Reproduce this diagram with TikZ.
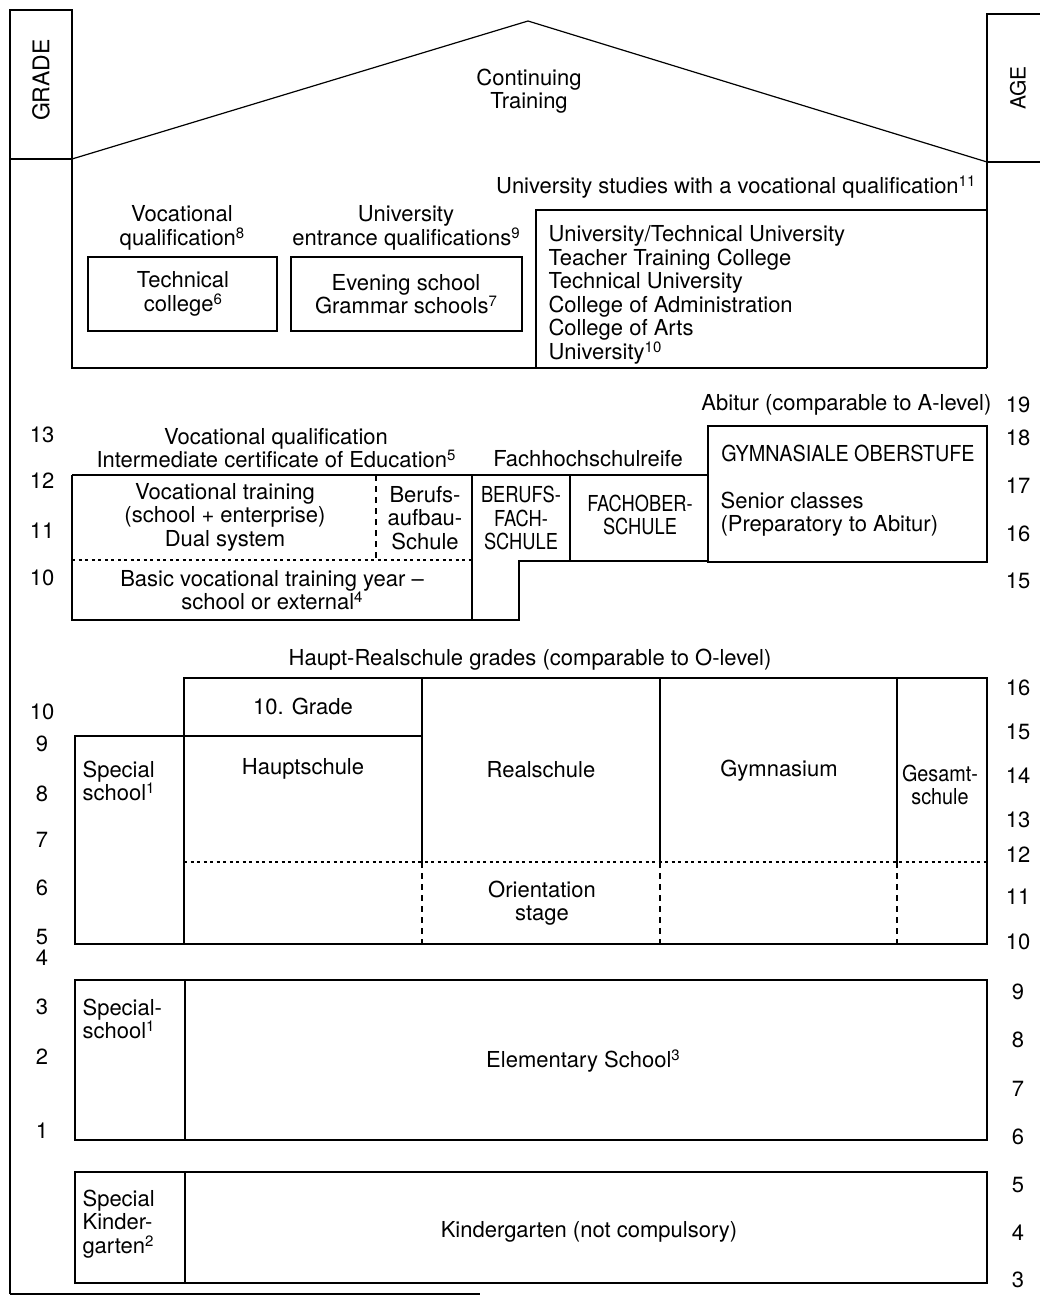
\documentclass[tikz,border=0pt]{standalone}
\usepackage{fontspec}
\setmainfont{TeX Gyre Heros}
\newfontfamily\condA[FakeStretch=0.83]{TeX Gyre Heros}
\newfontfamily\condB[FakeStretch=0.9]{TeX Gyre Heros}
\newcommand\fn[1]{\raisebox{0.62ex}{\fontsize{15}{15}\selectfont #1}}
\begin{document}
\begin{tikzpicture}[x=1pt,y=-1pt,
  line width=1.2pt,
  txt/.style={inner sep=0pt,align=center,font=\fontsize{22}{23.5}\selectfont},
  ctxt/.style={inner sep=0pt,align=center,font=\fontsize{22}{23.5}\condA},
  ltxt/.style={inner sep=0pt,align=left,anchor=west,font=\fontsize{22}{23.5}\selectfont},
  num/.style={inner sep=0pt,font=\fontsize{22}{23.5}\selectfont},
  dotl/.style={dash pattern=on 3pt off 3.5pt},
  dashl/.style={dash pattern=on 6pt off 5pt}]
\useasboundingbox (0,0) rectangle (1040,1296);
% ---------- outer frame and roof ----------
\draw (10,1294) -- (10,10) -- (72,10) -- (72,368) -- (987,368);
\draw (10,1294) -- (480,1294);
\draw (10,159) -- (72,159);
\draw (72,159) -- (528,21) -- (987,162);
\draw (1040,14) -- (987,14) -- (987,368);
\draw (987,162) -- (1040,162);
\node[txt,rotate=90,font=\fontsize{23}{24}\selectfont] (grade) at (41,80) {GRADE};
\node[txt,rotate=90,font=\fontsize{21}{24}\selectfont] (age) at (1018,88) {AGE};
\node[txt] (cont) at (529,91) {Continuing\\Training};
% ---------- higher education ----------
\node[txt,anchor=east] (univvoc) at (976,187) {University studies with a vocational qualification\fn{11}};
\draw (536,368) -- (536,210) -- (987,210);
\node[ltxt] (univlist) at (548,295) {University/Technical University\\Teacher Training College\\Technical University\\College of Administration\\College of Arts\\University\fn{10}};
\node[txt] (vocq) at (182,228) {Vocational\\qualification\fn{8}};
\node[txt] (uniq) at (406,228) {University\\entrance qualifications\fn{9}};
\draw (88,257) rectangle (277,331);
\draw (291,257) rectangle (522,331);
\node[txt] (techc) at (183,294) {Technical\\college\fn{6}};
\node[txt] (even) at (406,294) {Evening school\\Grammar schools\fn{7}};
% ---------- upper secondary ----------
\node[txt,anchor=east] (abitur) at (992,405) {Abitur (comparable to A-level)};
\node[txt] (vocq2) at (276,448) {Vocational qualification\\Intermediate certificate of Education\fn{5}};
\node[txt] (fhr) at (588,459) {Fachhochschulreife};
\draw (708,426) rectangle (987,562);
\node[txt,font=\fontsize{22}{23.5}\condB] (gymo) at (848,453) {GYMNASIALE OBERSTUFE};
\node[ltxt] (senior) at (720,514) {Senior classes\\(Preparatory to Abitur)};
\draw (72,475) -- (708,475);
\draw (72,475) -- (72,620) -- (519,620) -- (519,561) -- (708,561);
\draw (472,475) -- (472,620);
\draw (570,475) -- (570,561);
\draw[dashl] (376,475) -- (376,560);
\draw[dotl] (72,560) -- (472,560);
\node[txt] (voct) at (225,517) {Vocational training\\(school + enterprise)\\Dual system};
\node[txt] (bas) at (425,518) {Berufs-\\aufbau-\\Schule};
\node[ctxt] (bfs) at (521,518) {BERUFS-\\FACH-\\SCHULE};
\node[ctxt] (fos) at (640,515) {FACHOBER-\\SCHULE};
\node[txt] (basic) at (272,590) {Basic vocational training year --\\school or external\fn{4}};
% ---------- lower secondary ----------
\node[txt] (haupt) at (530,660) {Haupt-Realschule grades (comparable to O-level)};
\draw (184,944) -- (184,678) -- (987,678) -- (987,944) -- (75,944) -- (75,736) -- (422,736);
\draw (422,678) -- (422,862);
\draw (660,678) -- (660,862);
\draw (897,678) -- (897,862);
\draw[dashl] (422,862) -- (422,944);
\draw[dashl] (660,862) -- (660,944);
\draw[dashl] (897,862) -- (897,944);
\draw[dotl] (184,862) -- (987,862);
\node[txt] (g10) at (303,706) {10. Grade};
\node[ltxt] (spec1) at (82,781) {Special\\school\fn{1}};
\node[txt] (hs) at (303,769) {Hauptschule};
\node[txt] (rs) at (541,770) {Realschule};
\node[txt] (gy) at (779,771) {Gymnasium};
\node[txt,font=\fontsize{22}{23.5}\condB] (ges) at (940,785) {Gesamt-\\schule};
\node[txt] (ori) at (542,903) {Orientation\\stage};
% ---------- primary ----------
\draw (75,980) rectangle (987,1140);
\draw (185,980) -- (185,1140);
\node[ltxt] (spec2) at (82,1019) {Special-\\school\fn{1}};
\node[txt] (elem) at (583,1061) {Elementary School\fn{3}};
% ---------- kindergarten ----------
\draw (75,1172) rectangle (987,1283);
\draw (185,1172) -- (185,1283);
\node[ltxt] (spec3) at (82,1224) {Special\\Kinder-\\garten\fn{2}};
\node[txt] (kg) at (589,1232) {Kindergarten (not compulsory)};
% ---------- grade numbers ----------
\node[num] (gr13) at (42,435) {13};
\node[num] (gr12) at (42,481) {12};
\node[num] (gr11) at (42,531) {11};
\node[num] (gr10a) at (42,578) {10};
\node[num] (gr10b) at (42,712) {10};
\node[num] (gr9) at (42,744) {9};
\node[num] (gr8) at (42,794) {8};
\node[num] (gr7) at (42,840) {7};
\node[num] (gr6) at (42,888) {6};
\node[num] (gr5) at (42,937) {5};
\node[num] (gr4) at (42,958) {4};
\node[num] (gr3) at (42,1007) {3};
\node[num] (gr2) at (42,1057) {2};
\node[num] (gr1) at (42,1131) {1};
% ---------- age numbers ----------
\node[num] (ag19) at (1018,405) {19};
\node[num] (ag18) at (1018,438) {18};
\node[num] (ag17) at (1018,486) {17};
\node[num] (ag16a) at (1018,534) {16};
\node[num] (ag15a) at (1018,581) {15};
\node[num] (ag16b) at (1018,688) {16};
\node[num] (ag15b) at (1018,732) {15};
\node[num] (ag14) at (1018,776) {14};
\node[num] (ag13) at (1018,820) {13};
\node[num] (ag12) at (1018,855) {12};
\node[num] (ag11) at (1018,897) {11};
\node[num] (ag10) at (1018,942) {10};
\node[num] (ag9) at (1018,992) {9};
\node[num] (ag8) at (1018,1040) {8};
\node[num] (ag7) at (1018,1089) {7};
\node[num] (ag6) at (1018,1137) {6};
\node[num] (ag5) at (1018,1185) {5};
\node[num] (ag4) at (1018,1233) {4};
\node[num] (ag3) at (1018,1280) {3};
\end{tikzpicture}
\end{document}
